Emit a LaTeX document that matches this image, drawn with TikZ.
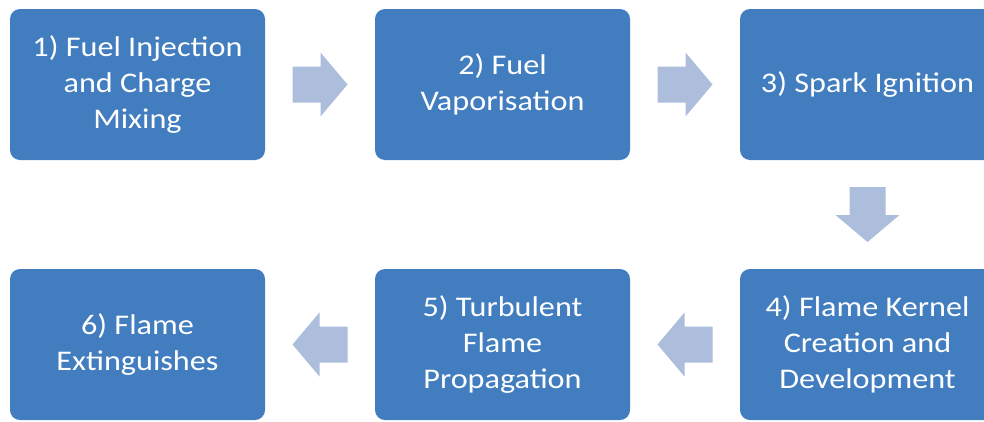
\documentclass[tikz,border=0pt]{standalone}
\usepackage{fontspec}
\setmainfont[FakeStretch=1.13]{Carlito}
\usetikzlibrary{calc}
\definecolor{boxblue}{RGB}{65,125,191}
\definecolor{arrowblue}{RGB}{173,189,220}
\tikzset{
  stepbox/.style={fill=boxblue, draw=none, rounded corners=10pt, minimum width=255pt, minimum height=151pt,
    inner sep=0pt, text=white, align=center, font=\fontsize{28.5}{36}\selectfont},
  blockarrow/.style={fill=arrowblue, draw=none}
}
\newcommand{\blockarrowat}[2]{% #1 = point, #2 = rotation
  \fill[blockarrow, shift={#1}, rotate=#2] (-27.5,-18) -- (0.5,-18) -- (0.5,-32) -- (27.5,0) -- (0.5,32) -- (0.5,18) -- (-27.5,18) -- cycle;}
\begin{document}
\begin{tikzpicture}[x=1pt,y=1pt]
\useasboundingbox (0,0) rectangle (984,-421);
\clip (0,0) rectangle (984,-421);
\node[stepbox] (b1) at (137.5,-84.5) {1) Fuel Injection\\and Charge\\Mixing};
\node[stepbox] (b2) at (502.5,-84.5) {2) Fuel\\Vaporisation};
\node[stepbox] (b3) at (867.5,-84.5) {3) Spark Ignition};
\node[stepbox] (b4) at (867.5,-344.5) {4) Flame Kernel\\Creation and\\Development};
\node[stepbox] (b5) at (502.5,-344.5) {5) Turbulent\\Flame\\Propagation};
\node[stepbox] (b6) at (137.5,-344.5) {6) Flame\\Extinguishes};
\blockarrowat{($(b1.east)!0.5!(b2.west)$)}{0}
\blockarrowat{($(b2.east)!0.5!(b3.west)$)}{0}
\blockarrowat{($(b3.south)!0.5!(b4.north)$)}{-90}
\blockarrowat{($(b4.west)!0.5!(b5.east)$)}{180}
\blockarrowat{($(b5.west)!0.5!(b6.east)$)}{180}
\end{tikzpicture}
\end{document}
